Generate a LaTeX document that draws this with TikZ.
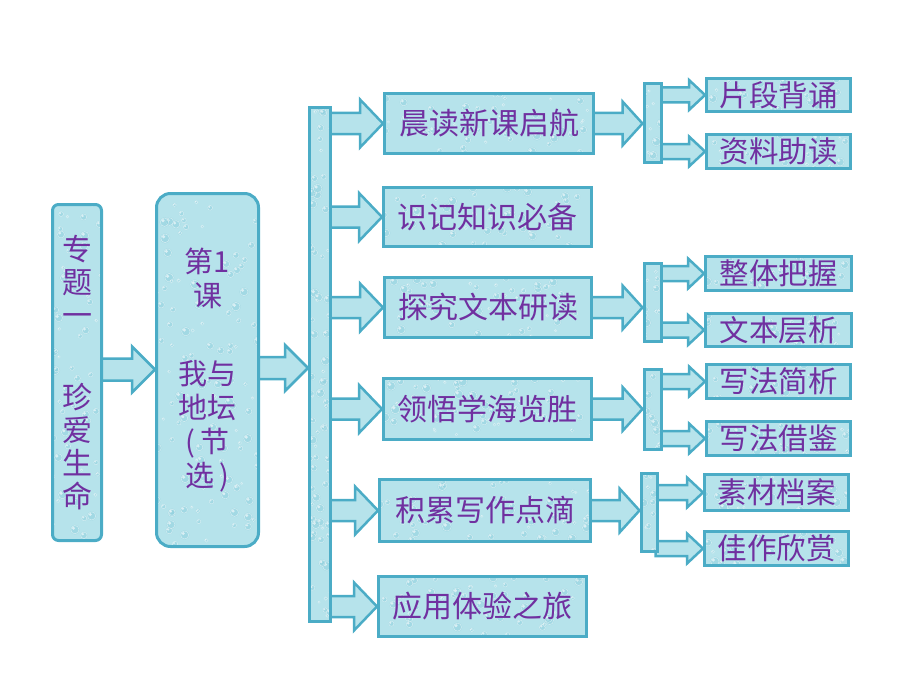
\documentclass[tikz,border=0pt]{standalone}
\usepackage{fontspec}
\newfontfamily\cjk{Noto Sans CJK SC}
\usetikzlibrary{calc}
\definecolor{bd}{HTML}{4BACC6}
\definecolor{fl}{HTML}{B6E3EB}
\definecolor{dropc}{HTML}{86CCDA}
\definecolor{tx}{HTML}{7030A0}
\pgfdeclarelayer{bg}
\pgfsetlayers{bg,main}
\newcommand\blockarrow[5]{%
  \path[arr] let \p1=#1, \p2=#2 in
    (\x1,\y1-#4) -- (\x2-#3,\y1-#4) -- (\x2-#3,\y1-#5) -- (\x2,\y1)
    -- (\x2-#3,\y1+#5) -- (\x2-#3,\y1+#4) -- (\x1,\y1+#4) -- cycle;}
\begin{document}
\begin{tikzpicture}[x=1pt,y=-1pt,
  droplets/.style={path picture={
    \foreach \k in {1,...,#1}{
      \pgfmathsetmacro\px{rnd}\pgfmathsetmacro\py{rnd}\pgfmathsetmacro\pr{1.2+4*rnd}
      \path let \p1=(path picture bounding box.south west),
                \p2=(path picture bounding box.north east) in
        coordinate (dc) at (\x1+\px*\x2-\px*\x1, \y1+\py*\y2-\py*\y1);
      \fill[dropc,opacity=.4] (dc) circle (\pr pt);
      \draw[white,opacity=.5,line width=0.6pt] (dc) circle (0.85*\pr pt);
      \fill[white,opacity=.6] ($(dc)+(-0.3*\pr,-0.3*\pr)$) circle (0.35*\pr pt);
    }}},
  box/.style={draw=bd, line width=3pt, fill=fl, text=tx,
    font=\cjk\fontsize{30}{33}\selectfont, inner sep=0pt, align=center},
  leaf/.style={box, droplets=22, font=\cjk\fontsize{29.5}{33}\selectfont},
  mainbox/.style={box, droplets=50},
  bar/.style={draw=bd, line width=3pt, fill=fl, inner sep=0pt},
  arr/.style={draw=bd, line width=2.5pt, fill=fl, line join=miter}]
\pgfmathsetseed{7}
\useasboundingbox (0,0) rectangle (920,690);

% left column
\node[box, droplets=60, minimum width=49pt, minimum height=336pt, rounded corners=6pt]
  (t) at (77,372.5) {专\\题\\一\\[49pt]珍\\爱\\生\\命};
\node[box, droplets=120, minimum width=102pt, minimum height=353pt, rounded corners=14pt,
  font=\cjk\fontsize{29}{34}\selectfont]
  (b2) at (207.5,370) {第1\\课\\[44pt]我与\\地坛\\(\hspace{5pt}节\\选\hspace{5pt})};
\node[bar, droplets=80, minimum width=21pt, minimum height=514pt] (bar) at (320,364.5) {};

% main boxes
\node[mainbox, minimum width=209pt, minimum height=60pt] (m1) at (489,123.5) {晨读新课启航};
\node[mainbox, minimum width=208pt, minimum height=59pt] (m2) at (487.5,217) {识记知识必备};
\node[mainbox, minimum width=207pt, minimum height=60pt] (m3) at (488,307.5) {探究文本研读};
\node[mainbox, minimum width=208pt, minimum height=61pt] (m4) at (487.5,409) {领悟学海览胜};
\node[mainbox, minimum width=211pt, minimum height=62pt] (m5) at (485,510.5) {积累写作点滴};
\node[mainbox, minimum width=208pt, minimum height=60pt] (m6) at (482.5,606.5) {应用体验之旅};

% small bars
\node[bar, droplets=10, minimum width=17pt, minimum height=78pt] (s1) at (652.5,123) {};
\node[bar, droplets=10, minimum width=17pt, minimum height=78pt] (s2) at (652.5,302) {};
\node[bar, droplets=10, minimum width=17pt, minimum height=80pt] (s3) at (652.5,409) {};
\node[bar, droplets=10, minimum width=16pt, minimum height=78pt] (s4) at (649,512) {};

% leaves
\node[leaf, minimum width=144pt, minimum height=33pt] (l1) at (778.5,95) {片段背诵};
\node[leaf, minimum width=144pt, minimum height=34pt] (l2) at (778.5,151.5) {资料助读};
\node[leaf, minimum width=146pt, minimum height=34pt] (l3) at (778.5,273.5) {整体把握};
\node[leaf, minimum width=146pt, minimum height=33pt] (l4) at (778.5,330) {文本层析};
\node[leaf, minimum width=144pt, minimum height=34pt] (l5) at (778.5,381.5) {写法简析};
\node[leaf, minimum width=144pt, minimum height=34pt] (l6) at (778.5,438.5) {写法借鉴};
\node[leaf, minimum width=144pt, minimum height=36pt] (l7) at (776.5,492.5) {素材档案};
\node[leaf, minimum width=144pt, minimum height=34pt] (l8) at (776.5,548.5) {佳作欣赏};

\begin{pgfonlayer}{bg}
  % left arrows
  \blockarrow{($(t.east)+(-3,-3)$)}{($(b2.west)+(0,-3)$)}{23pt}{11pt}{23pt}
  \blockarrow{($(b2.east)+(-3,-2)$)}{($(bar.west |- b2.east)+(0,-2)$)}{23pt}{11pt}{23pt}
  % bar to main boxes
  \foreach \m in {m1,m2,m3,m4,m5,m6}
    \blockarrow{($(bar.east |- \m.west)+(-3,0)$)}{(\m.west)}{23pt}{10.5pt}{24pt};
  % main boxes to small bars
  \blockarrow{($(m1.east)+(-3,0)$)}{(s1.west |- m1.east)}{20pt}{10.5pt}{22pt}
  \blockarrow{($(m3.east)+(-3,0)$)}{(s2.west |- m3.east)}{20pt}{10.5pt}{22pt}
  \blockarrow{($(m4.east)+(-3,0)$)}{(s3.west |- m4.east)}{20pt}{10.5pt}{22pt}
  \blockarrow{($(m5.east)+(-3,0)$)}{(s4.west |- m5.east)}{20pt}{10.5pt}{22pt}
  % small bars to leaves
  \blockarrow{($(s1.east |- l1.west)+(-3,0)$)}{(l1.west)}{16pt}{7.5pt}{15pt}
  \blockarrow{($(s1.east |- l2.west)+(-3,0)$)}{(l2.west)}{16pt}{7.5pt}{15pt}
  \blockarrow{($(s2.east |- l3.west)+(-3,0)$)}{(l3.west)}{16pt}{7.5pt}{15pt}
  \blockarrow{($(s2.east |- l4.west)+(-3,0)$)}{(l4.west)}{16pt}{7.5pt}{15pt}
  \blockarrow{($(s3.east |- l5.west)+(-3,0)$)}{(l5.west)}{16pt}{7.5pt}{15pt}
  \blockarrow{($(s3.east |- l6.west)+(-3,0)$)}{(l6.west)}{16pt}{7.5pt}{15pt}
  \blockarrow{($(s4.east |- l7.west)+(-3,0)$)}{(l7.west)}{16pt}{7.5pt}{15pt}
  \blockarrow{($(s4.east |- l8.west)+(-3,0)$)}{(l8.west)}{16pt}{7.5pt}{15pt}
\end{pgfonlayer}
\end{tikzpicture}
\end{document}
